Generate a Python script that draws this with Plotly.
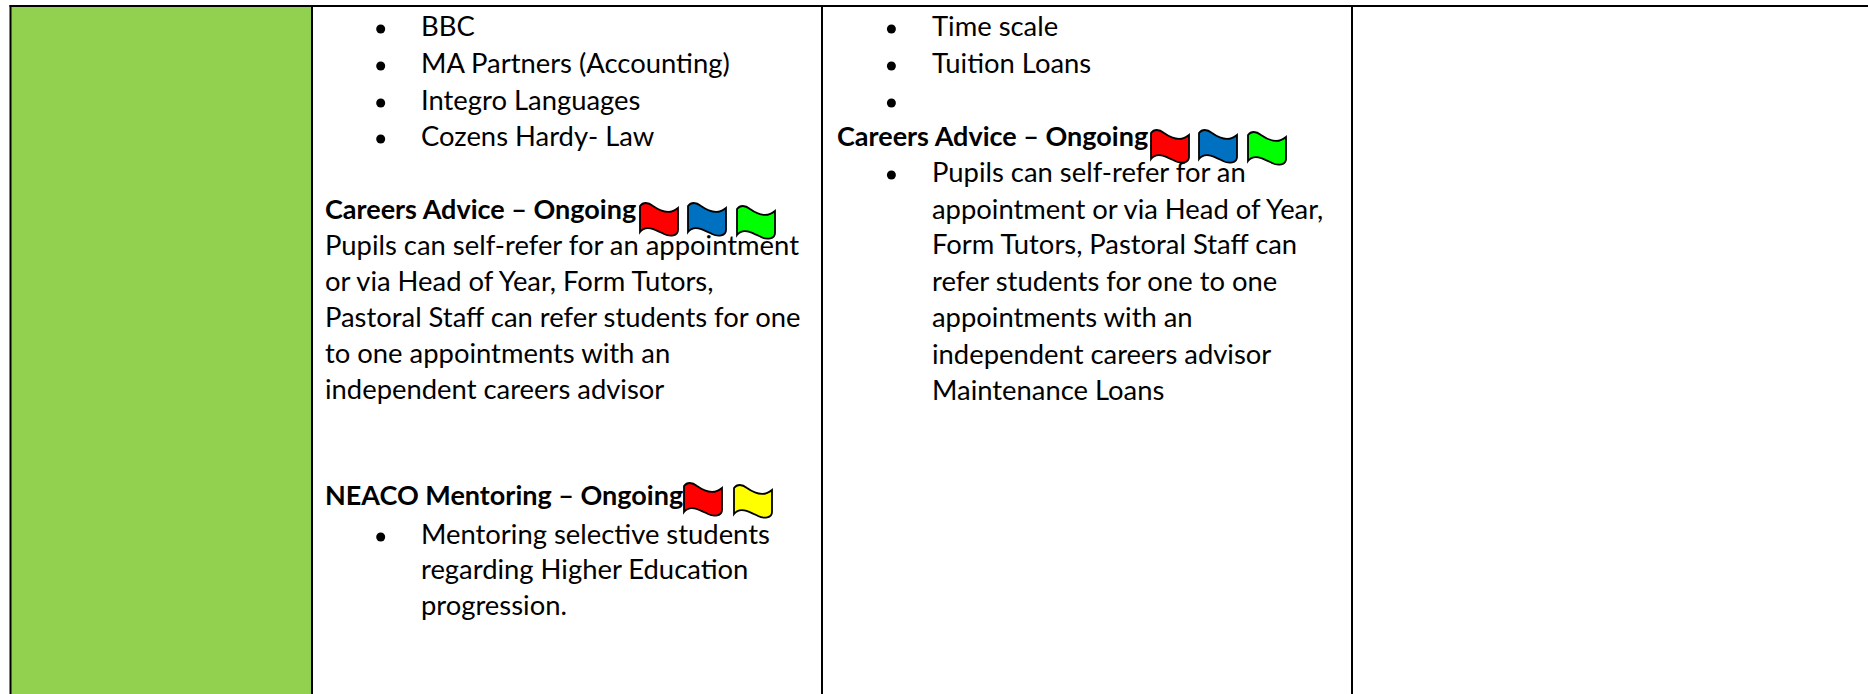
import plotly.graph_objects as go

FONT = "Lato"
REGULAR_SIZE = 27.4
BOLD_SIZE = 27.0
INK = "#000000"
GREEN = "#92D050"

# text rows: left position, vertical centre, string
body_text = [
    "BBC", "MA Partners (Accounting)", "Integro Languages", "Cozens Hardy- Law",
    "<b>Careers Advice – Ongoing</b>",
    "Pupils can self-refer for an appointment",
    "or via Head of Year, Form Tutors,",
    "Pastoral Staff can refer students for one",
    "to one appointments with an",
    "independent careers advisor",
    "<b>NEACO Mentoring – Ongoing</b>",
    "Mentoring selective students",
    "regarding Higher Education",
    "progression.",
    "Time scale", "Tuition Loans",
    "<b>Careers Advice – Ongoing</b>",
    "Pupils can self-refer for an",
    "appointment or via Head of Year,",
    "Form Tutors, Pastoral Staff can",
    "refer students for one to one",
    "appointments with an",
    "independent careers advisor",
    "Maintenance Loans",
]
body_x = [421, 421, 421, 421, 325, 325, 325, 325, 325, 325, 325, 421, 421, 421,
          932, 932, 837, 932, 932, 932, 932, 932, 932, 932]
body_y = [29, 66, 103, 139, 212, 248, 284, 320, 356, 392, 498, 537, 572, 608,
          29, 66, 139, 175, 212, 247, 284, 320, 357, 393]
body_size = [BOLD_SIZE if t.startswith("<b>") else REGULAR_SIZE for t in body_text]

bullet_x = [380.7, 380.7, 380.7, 380.7, 380.7, 891.4, 891.4, 891.4, 891.4]
bullet_y = [29, 66, 103, 139, 537, 29, 66, 103, 175]

# table rules
rule_x = [10.5, 312, 822, 1352]
rule_y_top = 6
page_bottom = 694
page_right = 1868

# flags: left, top, colour
flag_x = [640, 688, 737, 684, 734, 1151, 1199, 1248]
flag_y = [203, 203, 206, 483, 485, 130, 130, 132]
flag_color = ["#FF0000", "#0070C0", "#00FF00", "#FF0000", "#FFFF00", "#FF0000", "#0070C0", "#00FF00"]


def flag_path(x, y):
    def p(dx, dy):
        return f"{x + dx},{y + dy}"
    return (f"M{p(0, 3)} C{p(3, -1)} {p(8, -1)} {p(13, 3)} C{p(20, 8)} {p(30, 12)} {p(38, 5)} "
            f"L{p(38, 27)} C{p(38, 33)} {p(30, 34)} {p(24, 31)} C{p(16, 27)} {p(6, 21)} {p(0, 29)} Z")


shapes = [dict(type="rect", x0=rule_x[0], x1=rule_x[1], y0=rule_y_top, y1=page_bottom,
               fillcolor=GREEN, line_width=0, layer="below")]
for rx in rule_x:
    shapes.append(dict(type="line", x0=rx, x1=rx, y0=rule_y_top - 1, y1=page_bottom,
                       line=dict(color=INK, width=2)))
shapes.append(dict(type="line", x0=rule_x[0] - 1, x1=page_right, y0=rule_y_top, y1=rule_y_top,
                   line=dict(color=INK, width=2)))
for fx, fy, fc in zip(flag_x, flag_y, flag_color):
    shapes.append(dict(type="path", path=flag_path(fx, fy), fillcolor=fc,
                       line=dict(color=INK, width=1.8), layer="above"))

fig = go.Figure()
fig.add_trace(go.Scatter(x=body_x, y=body_y, text=body_text, mode="text",
                         textposition="middle right",
                         textfont=dict(family=FONT, size=body_size, color=INK),
                         hoverinfo="skip", showlegend=False))
fig.add_trace(go.Scatter(x=bullet_x, y=bullet_y, mode="markers",
                         marker=dict(color=INK, size=9), hoverinfo="skip", showlegend=False))
fig.update_layout(
    width=1868, height=694, margin=dict(l=0, r=0, t=0, b=0),
    paper_bgcolor="white", plot_bgcolor="white", shapes=shapes,
    xaxis=dict(range=[0, page_right], visible=False, fixedrange=True),
    yaxis=dict(range=[page_bottom, 0], visible=False, fixedrange=True),
)
fig.write_html("out.html", config=dict(displayModeBar=False),
               post_script="document.body.style.margin='0';document.documentElement.style.overflow='hidden';")
